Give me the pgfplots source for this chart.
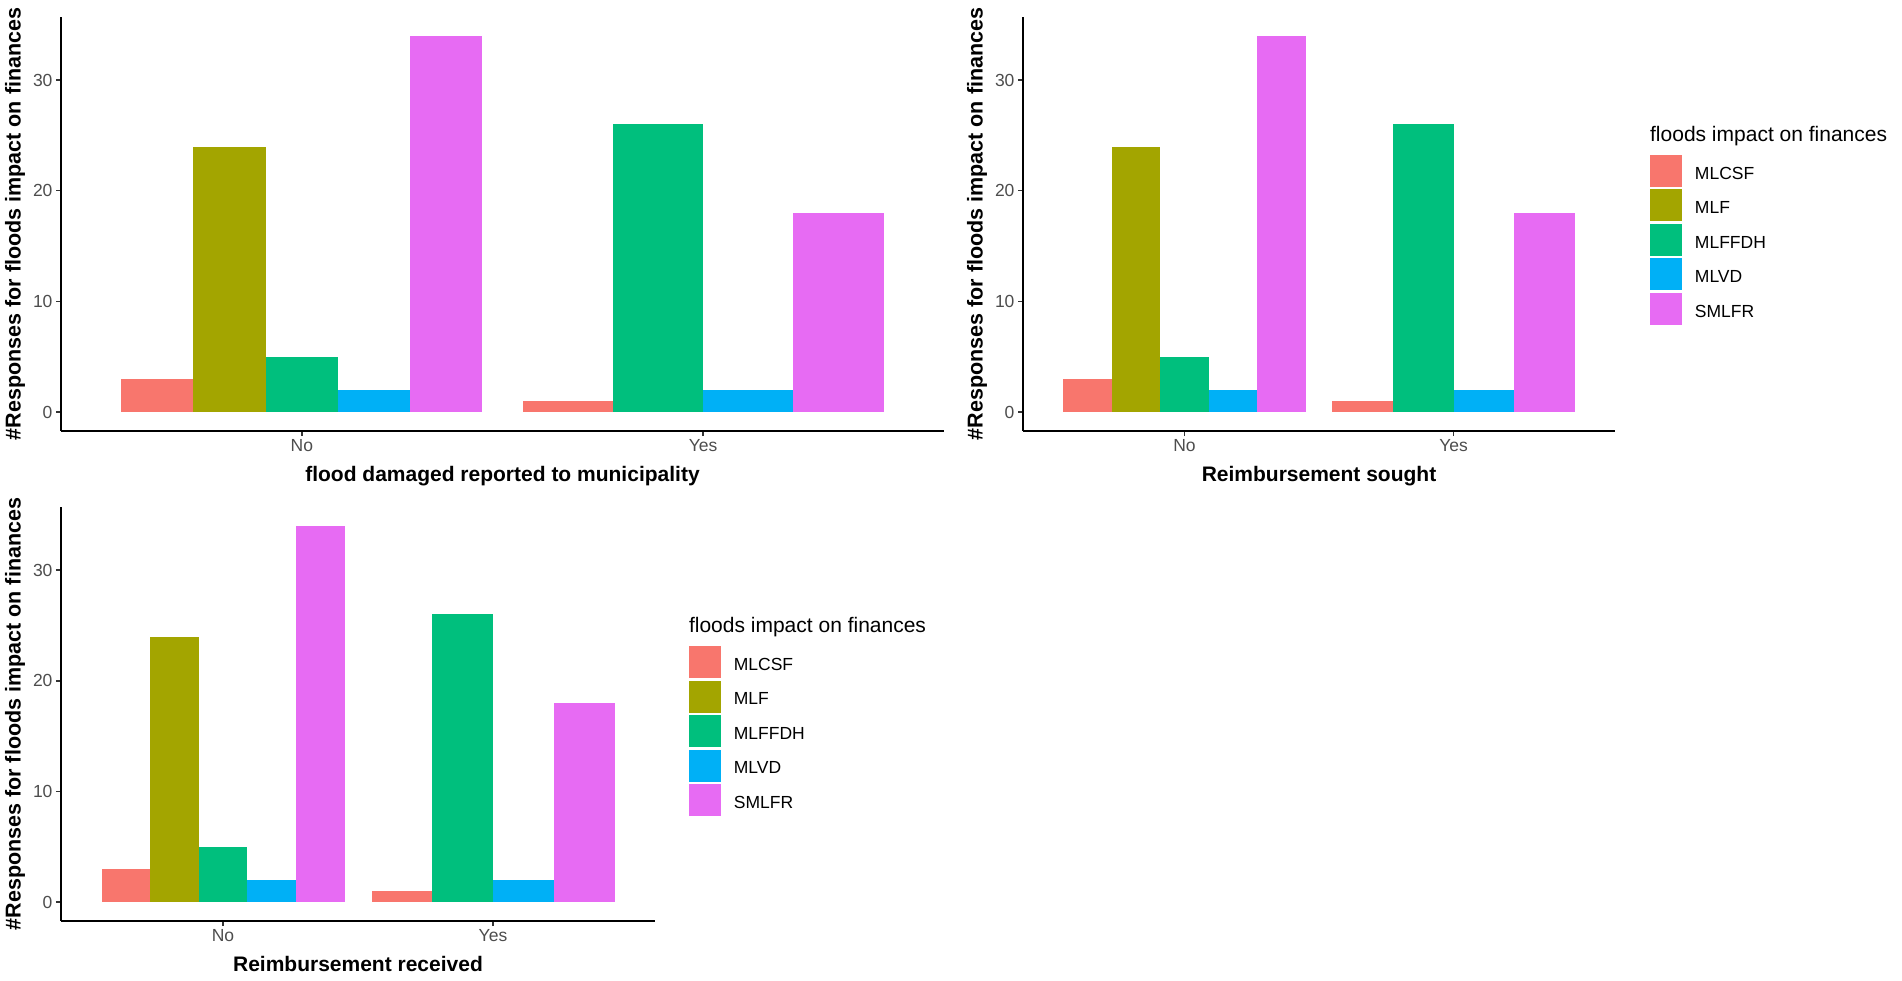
\documentclass[border=0pt]{standalone}
\usepackage{pgfplots}
\pgfplotsset{compat=1.18}
\usepackage{fontspec}
\setmainfont{Liberation Sans}
\definecolor{cA}{HTML}{F8766D}
\definecolor{cB}{HTML}{A3A500}
\definecolor{cC}{HTML}{00BF7D}
\definecolor{cD}{HTML}{00B0F6}
\definecolor{cE}{HTML}{E76BF3}
\definecolor{grey30}{HTML}{4D4D4D}
\definecolor{grey20}{HTML}{333333}
\pgfplotsset{
  legend image code/.code={\fill[#1] (0pt,-13pt) rectangle (32pt,19pt);},
  ggleg/.style 2 args={legend style={at={(#1)}, anchor=north west, draw=none, fill=none,
      name=#2,
      inner sep=0pt, outer sep=0pt, row sep=2.5pt, column sep=13pt,
      nodes={inner sep=0pt, font=\fontsize{17.5}{20}\selectfont}}},
  ggbase/.style={
    scale only axis,
    height=414pt,
    ymin=-1.7, ymax=35.7, xmin=0.4, xmax=2.6,
    axis x line*=bottom, axis y line*=left,
    axis line style={line width=1.6pt, black},
    xtick={1,2}, xticklabels={No,Yes},
    ytick={0,10,20,30},
    tick align=outside,
    major tick length=5pt,
    every tick/.style={line width=1.4pt, grey20},
    ticklabel style={font=\fontsize{17.5}{20}\selectfont, text=grey30},
    /pgf/number format/assume math mode=true,
    ylabel={\#Responses for floods impact on finances},
    ylabel style={at={([xshift=-40.3pt]axis description cs:0,0.5)}, anchor=base, font=\fontsize{21.5}{25}\selectfont\bfseries},
    xlabel style={at={([yshift=-50.7pt]axis description cs:0.5,0)}, anchor=base, font=\fontsize{21}{25}\selectfont\bfseries},
    legend cell align=left,
  },
  bA/.style={ybar, bar shift=0pt, draw=none, fill=cA},
  bB/.style={ybar, bar shift=0pt, draw=none, fill=cB},
  bC/.style={ybar, bar shift=0pt, draw=none, fill=cC},
  bD/.style={ybar, bar shift=0pt, draw=none, fill=cD},
  bE/.style={ybar, bar shift=0pt, draw=none, fill=cE},
}
\begin{document}
\begin{tikzpicture}
\useasboundingbox (0pt,0pt) rectangle (1902pt,-980pt);
% Panel 1
\begin{axis}[ggbase, at={(61pt,-431pt)}, anchor=south west, width=883pt,
  xlabel={flood damaged reported to municipality}]
\addplot[bA, bar width=0.18] coordinates {(0.64,3)};
\addplot[bB, bar width=0.18] coordinates {(0.82,24)};
\addplot[bC, bar width=0.18] coordinates {(1.00,5)};
\addplot[bD, bar width=0.18] coordinates {(1.18,2)};
\addplot[bE, bar width=0.18] coordinates {(1.36,34)};
\addplot[bA, bar width=0.225] coordinates {(1.6625,1)};
\addplot[bC, bar width=0.225] coordinates {(1.8875,26)};
\addplot[bD, bar width=0.225] coordinates {(2.1125,2)};
\addplot[bE, bar width=0.225] coordinates {(2.3375,18)};
\end{axis}
% Panel 2
\begin{axis}[ggbase, at={(1023pt,-431pt)}, anchor=south west, width=592pt,
  xlabel={Reimbursement sought}, ggleg={1.059,0.667}{legtwo}]
\addplot[bA, bar width=0.18] coordinates {(0.64,3)};
\addlegendentry{MLCSF}
\addplot[bB, bar width=0.18] coordinates {(0.82,24)};
\addlegendentry{MLF}
\addplot[bC, bar width=0.18] coordinates {(1.00,5)};
\addlegendentry{MLFFDH}
\addplot[bD, bar width=0.18] coordinates {(1.18,2)};
\addlegendentry{MLVD}
\addplot[bE, bar width=0.18] coordinates {(1.36,34)};
\addlegendentry{SMLFR}
\addplot[bA, bar width=0.225, forget plot] coordinates {(1.6625,1)};
\addplot[bC, bar width=0.225, forget plot] coordinates {(1.8875,26)};
\addplot[bD, bar width=0.225, forget plot] coordinates {(2.1125,2)};
\addplot[bE, bar width=0.225, forget plot] coordinates {(2.3375,18)};
\end{axis}
\node[anchor=base west, inner sep=0pt, font=\fontsize{21}{25}\selectfont] at ([yshift=13.3pt]legtwo.north west) {floods impact on finances};
% Panel 3
\begin{axis}[ggbase, at={(61pt,-921pt)}, anchor=south west, width=594pt,
  xlabel={Reimbursement received}, ggleg={1.057,0.664}{legthree}]
\addplot[bA, bar width=0.18] coordinates {(0.64,3)};
\addlegendentry{MLCSF}
\addplot[bB, bar width=0.18] coordinates {(0.82,24)};
\addlegendentry{MLF}
\addplot[bC, bar width=0.18] coordinates {(1.00,5)};
\addlegendentry{MLFFDH}
\addplot[bD, bar width=0.18] coordinates {(1.18,2)};
\addlegendentry{MLVD}
\addplot[bE, bar width=0.18] coordinates {(1.36,34)};
\addlegendentry{SMLFR}
\addplot[bA, bar width=0.225, forget plot] coordinates {(1.6625,1)};
\addplot[bC, bar width=0.225, forget plot] coordinates {(1.8875,26)};
\addplot[bD, bar width=0.225, forget plot] coordinates {(2.1125,2)};
\addplot[bE, bar width=0.225, forget plot] coordinates {(2.3375,18)};
\end{axis}
\node[anchor=base west, inner sep=0pt, font=\fontsize{21}{25}\selectfont] at ([yshift=13.3pt]legthree.north west) {floods impact on finances};
\end{tikzpicture}
\end{document}
